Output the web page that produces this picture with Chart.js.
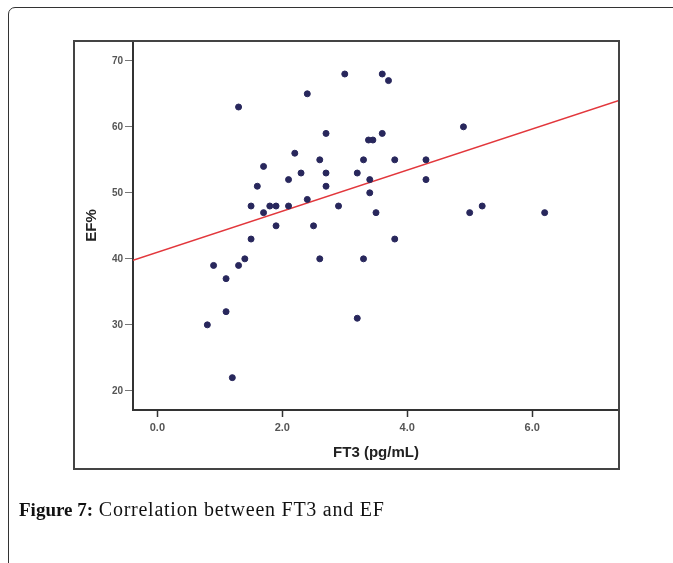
<!DOCTYPE html>
<html>
<head>
<meta charset="utf-8">
<script src="https://cdn.jsdelivr.net/npm/chart.js@4.4.1/dist/chart.umd.min.js"></script>
<style>
    html, body { margin: 0; padding: 0; background: #fff; }
    #wrapper { position: relative; width: 673px; height: 563px; overflow: hidden; }
    #card {
        position: absolute; left: 8px; top: 7px; width: 720px; height: 620px;
        border: 1px solid #333; border-top-left-radius: 7px; box-sizing: border-box;
    }
    canvas { position: absolute; left: 0; top: 0; }
    #caption {
        position: absolute; left: 19px; top: 498px;
        font-family: "Liberation Serif", "DejaVu Serif", serif; font-size: 20px; color: #111;
        white-space: nowrap;
    }
    #caption b { font-weight: bold; font-size: 19px; letter-spacing: 0; }
    #caption span { letter-spacing: 0.75px; }
</style>
</head>
<body>
<div id="wrapper">
    <div id="card"></div>
    <canvas id="grafico" width="673" height="563"></canvas>
    <div id="caption"><b>Figure 7:</b><span> Correlation between FT3 and EF</span></div>
</div>
<script>
"use strict";

// FT3 (pg/mL) di ogni paziente
const ft3 = [1.3, 2.4, 3.0, 3.6, 3.7, 2.7, 3.6, 4.9, 3.38, 3.45,
    2.2, 2.6, 3.3, 3.8, 4.3, 1.7, 2.3, 2.7, 3.2, 2.1,
    3.4, 4.3, 1.6, 2.7, 3.4, 2.4, 1.5, 1.8, 1.9, 2.1,
    2.9, 5.2, 1.7, 3.5, 5.0, 6.2, 1.9, 2.5, 1.5, 3.8,
    1.4, 2.6, 3.3, 0.9, 1.3, 1.1, 1.1, 0.8, 3.2, 1.2];
// EF% corrispondente
const ef = [63, 65, 68, 68, 67, 59, 59, 60, 58, 58,
    56, 55, 55, 55, 55, 54, 53, 53, 53, 52,
    52, 52, 51, 51, 50, 49, 48, 48, 48, 48,
    48, 48, 47, 47, 47, 47, 45, 45, 43, 43,
    40, 40, 40, 39, 39, 37, 32, 30, 31, 22];
// retta di regressione EF = a + b * FT3
const intercetta = 41.0;
const pendenza = 3.11;

const xMin = -0.39, xMax = 7.39;
const yMin = 17.1, yMax = 73;
const xTicks = [0, 2, 4, 6];
const yTicks = [20, 30, 40, 50, 60, 70];

window.onload = function() {
    let punti = [];
    for (let i = 0; i < ft3.length; i++)
        punti.push({ x: ft3[i], y: ef[i] });

    let retta = [
        { x: xMin, y: intercetta + pendenza * xMin },
        { x: xMax, y: intercetta + pendenza * xMax }
    ];

    // cornice esterna del grafico
    const cornice = {
        id: "cornice",
        afterDraw(chart) {
            let ctx = chart.ctx;
            ctx.save();
            ctx.strokeStyle = "#444";
            ctx.lineWidth = 2;
            ctx.strokeRect(74, 41, 545, 428);
            ctx.restore();
        }
    };

    let _canvas = document.getElementById("grafico");
    let chart = new Chart(_canvas, {
        type: "scatter",
        data: {
            datasets: [{
                label: "Pazienti",
                data: punti,
                backgroundColor: "#28275c",
                borderColor: "#28275c",
                pointRadius: 3,
                pointHoverRadius: 3,
                order: 1
            }, {
                label: "Regressione",
                type: "line",
                data: retta,
                borderColor: "#e2373c",
                borderWidth: 1.6,
                pointRadius: 0,
                fill: false,
                order: 2
            }]
        },
        options: {
            responsive: false,
            animation: false,
            events: [],
            layout: { padding: { left: 74, top: 41, right: 54, bottom: 94 } },
            plugins: { legend: { display: false }, tooltip: { enabled: false } },
            scales: {
                x: {
                    type: "linear",
                    min: xMin,
                    max: xMax,
                    afterFit: function(scale) { scale.height = 59; },
                    afterBuildTicks: function(scale) {
                        scale.ticks = xTicks.map(v => ({ value: v }));
                    },
                    grid: { drawOnChartArea: false, drawTicks: true, tickLength: 7, tickColor: "#333", tickWidth: 1.5 },
                    border: { color: "#333", width: 2 },
                    ticks: {
                        padding: 4,
                        color: "#555",
                        font: { family: "Liberation Sans", size: 11, weight: "bold" },
                        callback: v => v.toFixed(1)
                    },
                    title: {
                        display: true,
                        text: "FT3 (pg/mL)",
                        color: "#222",
                        font: { family: "Liberation Sans", size: 15, weight: "bold" },
                        padding: { top: 0, bottom: 7 }
                    }
                },
                y: {
                    type: "linear",
                    min: yMin,
                    max: yMax,
                    afterFit: function(scale) { scale.width = 59; },
                    afterBuildTicks: function(scale) {
                        scale.ticks = yTicks.map(v => ({ value: v }));
                    },
                    grid: { drawOnChartArea: false, drawTicks: true, tickLength: 8, tickColor: "#777", tickWidth: 1 },
                    border: { color: "#333", width: 2 },
                    ticks: {
                        padding: 2,
                        color: "#555",
                        font: { family: "Liberation Sans", size: 10, weight: "bold" }
                    },
                    title: {
                        display: true,
                        text: "EF%",
                        color: "#222",
                        font: { family: "Liberation Sans", size: 15, weight: "bold" },
                        padding: { top: 9, bottom: 0 }
                    }
                }
            }
        },
        plugins: [cornice]
    });
};
</script>
</body>
</html>
